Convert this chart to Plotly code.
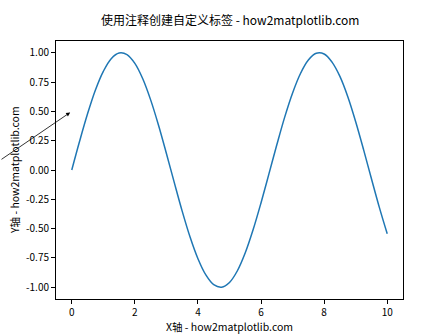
import plotly.graph_objects as go

x_vals = [0, 0.25, 0.5, 0.75, 1, 1.25, 1.5, 1.75, 2, 2.25, 2.5, 2.75, 3, 3.25, 3.5, 3.75,
          4, 4.25, 4.5, 4.75, 5, 5.25, 5.5, 5.75, 6, 6.25, 6.5, 6.75, 7, 7.25, 7.5, 7.75,
          8, 8.25, 8.5, 8.75, 9, 9.25, 9.5, 9.75, 10]
y_vals = [0.0, 0.247, 0.479, 0.682, 0.841, 0.949, 0.997, 0.984, 0.909, 0.778, 0.598, 0.382,
          0.141, -0.108, -0.351, -0.572, -0.757, -0.895, -0.978, -0.999, -0.959, -0.859,
          -0.706, -0.508, -0.279, -0.033, 0.215, 0.451, 0.657, 0.823, 0.938, 0.995, 0.989,
          0.920, 0.798, 0.625, 0.412, 0.174, -0.075, -0.319, -0.544]
x_ticks = [0, 2, 4, 6, 8, 10]
y_ticks = [-1.0, -0.75, -0.5, -0.25, 0.0, 0.25, 0.5, 0.75, 1.0]
y_tick_labels = ["-1.00", "-0.75", "-0.50", "-0.25", "0.00", "0.25", "0.50", "0.75", "1.00"]
title = "使用注释创建自定义标签 - how2matplotlib.com"
x_label = "X轴 - how2matplotlib.com"
y_label = "Y轴 - how2matplotlib.com"
arrow_target = (0, 0.5)

FONT = "Noto Sans CJK SC, DejaVu Sans, sans-serif"

fig = go.Figure()
fig.add_trace(go.Scatter(x=x_vals, y=y_vals, mode="lines", line_shape="spline",
                         line=dict(color="#1f77b4", width=1.5), showlegend=False,
                         hoverinfo="skip"))

axis_common = dict(showgrid=False, zeroline=False, showline=True, linecolor="black",
                   linewidth=1, mirror=True, ticks="outside", ticklen=4, tickwidth=1,
                   tickcolor="black", tickfont=dict(family=FONT, size=10, color="black"))

fig.update_xaxes(range=[-0.5, 10.5], tickvals=x_ticks, **axis_common)
fig.update_yaxes(range=[-1.1, 1.1], tickvals=y_ticks, ticktext=y_tick_labels, **axis_common)

fig.update_layout(
    width=448, height=336,
    margin=dict(l=56, r=45, t=41, b=37),
    plot_bgcolor="white", paper_bgcolor="white",
    font=dict(family=FONT, color="black"),
    annotations=[
        dict(text=title, xref="paper", yref="paper", x=0.5, y=1, yshift=11,
             xanchor="center", yanchor="bottom", showarrow=False,
             font=dict(family=FONT, size=12, color="black")),
        dict(text=x_label, xref="paper", yref="paper", x=0.5, y=0, yshift=-27,
             xanchor="center", yanchor="middle", showarrow=False,
             font=dict(family=FONT, size=10.5, color="black")),
        dict(text=y_label, xref="paper", yref="paper", x=0, y=0.5, xshift=-42, yshift=0,
             xanchor="center", yanchor="middle", textangle=-90, showarrow=False,
             font=dict(family=FONT, size=10.5, color="black")),
        dict(text="", x=arrow_target[0], y=arrow_target[1], xref="x", yref="y",
             showarrow=True, ax=-72, ay=49, arrowhead=2, arrowsize=1, arrowwidth=0.8,
             arrowcolor="black", standoff=2),
    ],
)

fig.write_html("out.html")
